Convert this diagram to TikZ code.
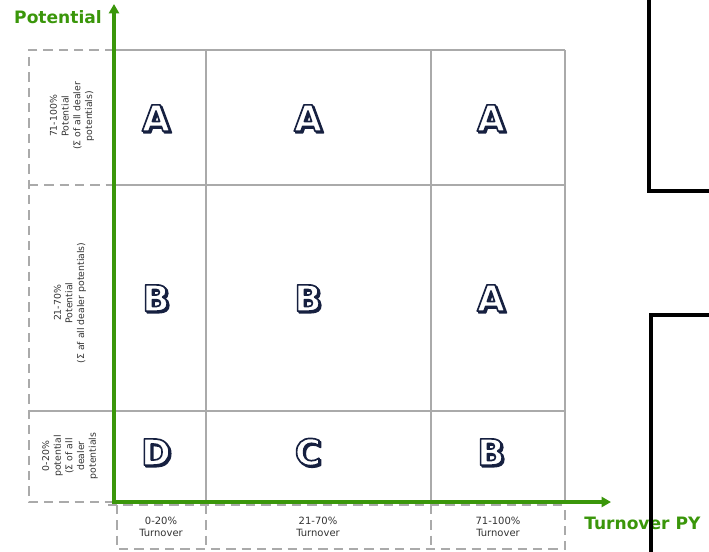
\documentclass[tikz,border=0pt]{standalone}
\usepackage{fontspec}
\setmainfont{DejaVu Sans}
\usepackage{xcolor}
\usepackage{tikz}
\usetikzlibrary{arrows.meta, calc}

\definecolor{axisgreen}{RGB}{58,150,10}
\definecolor{gridgray}{RGB}{170,170,170}
\definecolor{ink}{RGB}{22,32,64}

% letter filled with the current colour, stroked in ink
\newcommand{\outlined}[2]{%
  \special{pdf:literal direct 2 Tr #1 w 0.086 0.125 0.251 RG 1 J 1 j}#2%
  \special{pdf:literal direct 0 Tr}}

\begin{document}
\begin{tikzpicture}[x=0.75pt,y=-0.75pt,
  grade/.style={font=\bfseries\fontsize{27}{30}\selectfont, inner sep=0pt},
  gradeshadow/.style={grade, text=ink},
  gradeface/.style={grade, text=white},
  gridline/.style={gridgray, line width=2.2pt},
  bandline/.style={gridgray, line width=2.2pt, dash pattern=on 7pt off 4.5pt},
  axis/.style={axisgreen, line width=3.6pt, line join=miter,
    {Triangle[length=7pt,width=7.5pt]}-{Triangle[length=7pt,width=7.5pt]}},
  axislabel/.style={axisgreen, font=\bfseries\fontsize{12.8}{15}\selectfont, inner sep=0pt},
  sidelabel/.style={rotate=90, align=center, text=black!80, font=\fontsize{7}{8.8}\selectfont},
  baselabel/.style={align=center, text=black!80, font=\fontsize{7.5}{9}\selectfont}]
  \useasboundingbox (0,0) rectangle (709,552);

  % Grid of the cells
  \draw[gridline] (114,50) -- (565,50) (114,185) -- (565,185) (114,411) -- (565,411);
  \draw[gridline] (206,50) -- (206,502) (431,50) -- (431,502) (565,50) -- (565,502);

  % Dashed bands of the potential classes (left)
  \draw[bandline] (114,50) -- (29,50) -- (29,502) -- (114,502);
  \draw[bandline] (29,185) -- (114,185);
  \draw[gridline] (29,411) -- (114,411);

  % Dashed bands of the turnover classes (below)
  \draw[bandline] (108,505) -- (565,505);
  \draw[bandline] (117,505) -- (117,549) -- (565,549) -- (565,505);
  \draw[bandline] (206,505) -- (206,549) (431,505) -- (431,549);

  % Axes
  \coordinate (O) at (114,502);
  \coordinate (ytip) at (114,4);
  \coordinate (xtip) at (611,502);
  \draw[axis] (ytip) -- (O) -- (xtip);
  \node[axislabel, anchor=east] (ylab) at (102,17) {Potential};
  \node[axislabel, anchor=west] (xlab) at (584,523) {Turnover PY};

  % Class letters (shadow first, then the white face)
  \foreach \x/\y/\g/\n in {156/118/A/a11, 308/118/A/a12, 491/118/A/a13,
                           156/298/B/a21, 308/298/B/a22, 491/298/A/a23,
                           156/452/D/a31, 308/452/C/a32, 491/452/B/a33}{
    \node[gradeshadow] (\n s) at (\x+1.6,\y+1.6) {\outlined{1.3}{\g}};
    \node[gradeface] (\n) at (\x,\y) {\outlined{1.25}{\g}};
  }

  % Class labels
  \node[sidelabel] (phigh) at (72,116) {71-100\%\\Potential\\(Σ of all dealer\\potentials)};
  \node[sidelabel] (pmid) at (70,303) {21-70\%\\Potential\\(Σ af all dealer potentials)};
  \node[sidelabel] (plow) at (70,456) {0-20\%\\potential\\(Σ of all\\dealer\\potentials};
  \node[baselabel] (tlow) at (161,527) {0-20\%\\Turnover};
  \node[baselabel] (tmid) at (318,527) {21-70\%\\Turnover};
  \node[baselabel] (thigh) at (498,527) {71-100\%\\Turnover};

  % Frames at the right edge
  \draw[black, line width=2.4pt] (649,-5) -- (649,191) -- (715,191);
  \draw[black, line width=2.4pt] (651,560) -- (651,315) -- (715,315);
\end{tikzpicture}
\end{document}
